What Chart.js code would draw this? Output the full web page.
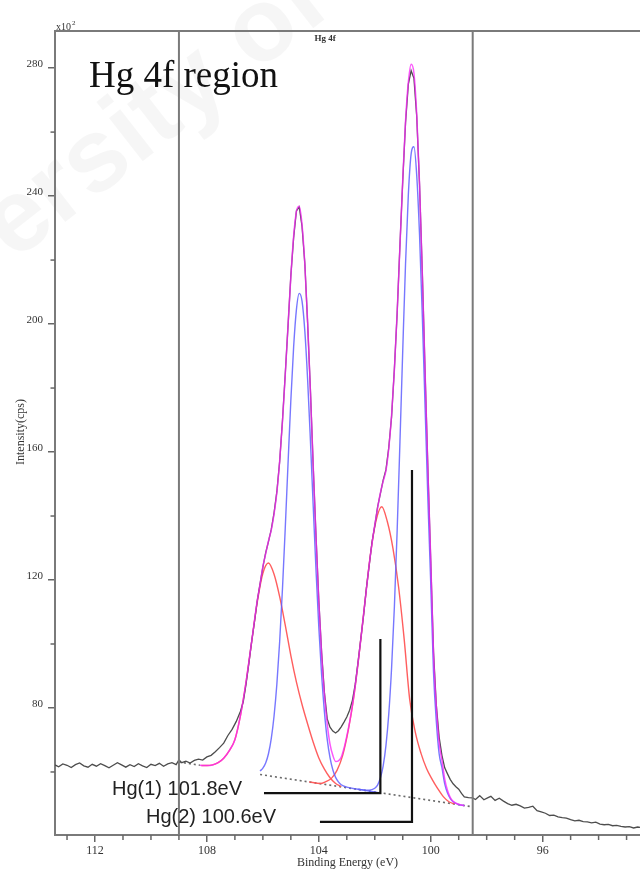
<!DOCTYPE html>
<html><head><meta charset="utf-8">
<script src="https://cdn.jsdelivr.net/npm/chart.js@4.4.0/dist/chart.umd.min.js"></script>
<style>html,body{margin:0;padding:0;background:#fff;}canvas{display:block;}</style>
</head><body>
<canvas id="c" width="640" height="871"></canvas>
<script>
// ---------- data ----------
const xTicks = [112, 108, 104, 100, 96];
const xMinorTicks = [113, 111, 110, 109, 107, 106, 105, 103, 102, 101, 99, 98, 97, 95, 94, 93];
const yTicks = [80, 120, 160, 200, 240, 280];
const yMinorTicks = [60, 100, 140, 180, 220, 260];
const xRange = [92.52, 113.43];
const yRange = [40.3, 291.6];
const regionLimits = [109.0, 98.5];
const peakLabels = ['Hg(1) 101.8eV', 'Hg(2) 100.6eV'];

// raw spectrum (binding energy eV, intensity x10^2 cps)
const rawE = [113.43,113.3,113.15,113.0,112.85,112.7,112.55,112.4,112.25,112.1,
  111.95,111.8,111.65,111.5,111.35,111.2,111.05,110.9,110.75,110.6,
  110.45,110.3,110.15,110.0,109.85,109.7,109.55,109.4,109.25,109.1,
  109.0,108.9,108.75,108.6,108.45,108.3,108.15,108.0,107.85,107.7,
  107.55,107.4,107.25,107.1,106.95,106.8,106.7,106.6,106.5,106.4,
  106.3,106.2,106.1,106.0,105.9,105.8,105.7,105.6,105.5,105.4,
  105.3,105.2,105.1,105.0,104.9,104.8,104.7,104.6,104.5,104.4,
  104.3,104.2,104.1,104.0,103.9,103.8,103.7,103.6,103.5,103.4,
  103.3,103.2,103.1,103.0,102.9,102.8,102.7,102.6,102.5,102.4,
  102.3,102.2,102.1,102.0,101.9,101.8,101.7,101.6,101.5,101.4,
  101.3,101.2,101.1,101.0,100.9,100.8,100.7,100.6,100.5,100.4,
  100.3,100.2,100.1,100.0,99.9,99.8,99.7,99.6,99.5,99.4,
  99.3,99.2,99.1,99.0,98.9,98.8,98.65,98.5,98.4,98.25,
  98.1,97.95,97.85,97.7,97.55,97.4,97.25,97.1,96.95,96.8,
  96.65,96.5,96.35,96.2,96.05,95.9,95.75,95.6,95.45,95.3,
  95.15,95.0,94.85,94.7,94.55,94.4,94.25,94.1,93.95,93.8,
  93.65,93.5,93.35,93.2,93.05,92.9,92.75,92.6,92.52];
const rawI = [62.2,61.6,62.5,62.1,61.4,62.3,62.8,61.9,61.5,62.4,
  61.8,62.6,62.0,61.3,62.1,62.9,62.2,61.5,62.3,61.7,
  62.6,61.9,61.4,62.4,62.0,62.7,61.8,62.5,62.9,62.3,
  63.8,62.9,63.4,62.8,63.6,64.0,63.7,64.7,65.2,66.3,
  67.6,69.0,71.4,73.3,75.8,79.0,82.0,87.5,94.0,100.8,
  107.0,113.6,118.9,124.0,128.5,132.0,135.8,141.0,147.6,157.0,
  169.8,184.4,199.5,215.2,227.0,235.4,236.6,230.5,218.9,200.2,
  179.2,155.3,133.6,113.5,97.4,84.8,76.6,74.0,72.8,72.2,
  72.9,74.1,75.6,77.2,79.3,82.4,87.3,94.2,101.6,109.0,
  117.4,124.5,131.8,137.0,142.8,147.0,151.2,154.5,161.4,171.0,
  185.9,203.4,224.8,244.9,263.0,275.0,279.2,276.8,264.8,243.5,
  215.8,184.3,154.2,126.0,97.5,80.8,70.9,65.2,61.3,59.4,
  57.6,56.3,55.4,54.6,53.3,52.2,52.0,51.9,51.4,52.6,
  51.3,52.0,52.4,51.1,51.8,50.9,50.1,49.6,49.9,49.4,
  48.7,48.9,49.3,47.9,47.5,47.1,46.4,46.5,46.0,45.7,
  45.6,45.1,44.7,44.9,44.5,44.4,44.1,44.3,43.7,43.5,
  43.6,43.2,43.3,43.0,42.8,42.9,42.5,42.8,42.7];

// fitted envelope (magenta)
const envE = [108.25,108.0,107.8,107.6,107.4,107.2,107.0,106.8,106.6,106.4,
  106.2,106.1,106.0,105.9,105.8,105.7,105.6,105.5,105.4,105.3,
  105.2,105.1,105.0,104.9,104.8,104.7,104.6,104.5,104.4,104.3,
  104.2,104.1,104.0,103.9,103.8,103.7,103.6,103.5,103.4,103.3,
  103.2,103.1,103.0,102.9,102.8,102.7,102.6,102.5,102.4,102.3,
  102.2,102.1,102.0,101.9,101.8,101.7,101.6,101.5,101.4,101.3,
  101.2,101.1,101.0,100.9,100.8,100.7,100.6,100.5,100.4,100.3,
  100.2,100.1,100.0,99.9,99.8,99.7,99.6,99.5,99.4,99.3,
  99.2,99.0,98.8];
const envI = [62.1,62.0,62.2,62.9,64.3,66.7,70.1,77.7,88.2,100.8,
  113.6,118.7,124.2,128.2,132.2,135.6,140.7,147.4,157.2,169.4,
  184.1,199.7,214.8,227.5,235.2,236.8,231.1,218.7,200.6,178.8,
  155.6,133.3,113.2,96.9,84.2,75.0,68.7,65.2,63.3,63.5,
  64.6,67.4,71.2,75.6,80.8,86.9,94.0,101.4,109.3,117.1,
  124.8,131.4,137.2,142.5,147.2,150.9,154.2,161.1,171.4,185.6,
  203.7,224.5,245.2,263.5,275.6,281.2,278.4,265.4,243.8,215.5,
  184.6,153.9,126.5,97.0,80.5,69.2,63.7,57.8,54.2,52.0,
  50.8,49.9,49.5];

// Hg(2) components (blue): 4f5/2 and 4f7/2
const blue1E = [106.1,106.0,105.9,105.8,105.7,105.6,105.5,105.4,105.3,105.2,
  105.1,105.0,104.9,104.8,104.7,104.6,104.5,104.4,104.3,104.2,
  104.1,104.0,103.9,103.8,103.7,103.6,103.5,103.4,103.3,103.2,
  103.0,102.6,102.2,101.9];
const blue1I = [60.3,61.2,62.8,65.7,70.4,77.5,87.4,100.7,117.2,136.2,
  156.5,176.2,192.9,204.6,209.6,207.2,197.8,182.6,163.5,143.0,
  123.0,105.2,90.3,78.8,70.2,64.5,60.7,58.3,56.9,56.0,
  55.25,54.6,54.0,53.6];
const blue2E = [102.6,102.2,102.0,101.9,101.8,101.7,101.6,101.5,101.4,101.3,
  101.2,101.1,101.0,100.9,100.8,100.7,100.6,100.5,100.4,100.3,
  100.2,100.1,100.0,99.9,99.8,99.7,99.6,99.5,99.4,99.3,
  99.2,99.0,98.8];
const blue2I = [54.6,54.3,54.9,55.9,58.1,61.9,68.3,78.1,92.4,111.5,
  135.5,163.2,191.9,219.0,240.5,253.2,255.4,246.4,227.9,202.3,
  173.6,144.8,119.0,91.0,75.8,65.7,61.4,56.3,53.4,51.7,
  50.7,49.8,49.5];

// Hg(1) components (red)
const red1E = [108.2,108.0,107.8,107.6,107.4,107.2,107.0,106.8,106.6,106.4,
  106.2,106.0,105.8,105.6,105.4,105.2,105.0,104.8,104.6,104.4,
  104.2,104.0,103.8,103.6,103.4,103.2];
const red1I = [62.0,62.0,62.2,62.9,64.3,66.7,70.1,77.7,88.2,100.7,
  113.1,122.1,125.3,121.8,114.8,105.9,96.4,88.1,81.1,75.0,
  69.3,64.4,60.9,58.2,56.4,55.4];
const red2E = [104.35,103.95,103.75,103.55,103.35,103.15,102.95,102.75,102.55,102.35,
  102.15,101.95,101.75,101.55,101.35,101.15,100.95,100.75,100.55,100.35,
  100.15,99.95,99.75,99.55,99.35,99.15];
const red2I = [56.9,56.4,57.0,58.0,60.5,65.1,72.9,83.4,97.5,113.3,
  128.3,138.7,142.9,138.2,129.9,117.9,101.6,82.5,72.4,65.9,
  61.1,57.7,54.8,52.3,50.7,50.0];

// linear background (dotted)
const bgE = [109.0, 108.25, 107.2, 106.1, 98.5];
const bgI = [63.1, 62.1, null, 59.2, 49.1];

// peak position markers
const hg1E = [105.96, 101.8, 101.8];
const hg1I = [53.4, 53.4, 101.6];
const hg2E = [103.96, 100.67, 100.67];
const hg2I = [44.4, 44.4, 154.4];

// ---------- chart ----------
const pts = (xs, ys) => xs.map((x, i) => ({x: x, y: ys[i]}));
function ds(xs, ys, color, width, order, extra) {
  return Object.assign({
    data: pts(xs, ys), showLine: true, borderColor: color, borderWidth: width,
    pointRadius: 0, pointHoverRadius: 0, fill: false, order: order, tension: 0
  }, extra || {});
}
const smooth = {cubicInterpolationMode: 'monotone'};

const datasets = [
  ds(hg1E, hg1I, '#111', 2.2, 0),
  ds(hg2E, hg2I, '#111', 2.2, 0),
  ...regionLimits.map(v => ds([v, v], yRange, '#7a7a7a', 2, 1)),
  ds(envE, envI, 'rgba(250,40,250,0.78)', 1.5, 2, smooth),
  ds(blue1E, blue1I, 'rgba(95,95,255,0.85)', 1.4, 3, smooth),
  ds(blue2E, blue2I, 'rgba(95,95,255,0.85)', 1.4, 3, smooth),
  ds(rawE, rawI, '#4d4d4d', 1.3, 4),
  ds(red1E, red1I, 'rgba(255,85,85,0.95)', 1.4, 5, smooth),
  ds(red2E, red2I, 'rgba(255,85,85,0.95)', 1.4, 5, smooth),
  ds(bgE, bgI, '#6a6a6a', 1.6, 6, {borderDash: [2, 3]})
];

const serif = "'Liberation Serif', 'Times New Roman', serif";
const sans = "'Liberation Sans', Arial, sans-serif";

const extras = {
  id: 'extras',
  beforeDraw(chart) {
    const ctx = chart.ctx;
    ctx.save();
    ctx.fillStyle = '#fff';
    ctx.fillRect(0, 0, chart.width, chart.height);
    ctx.translate(14, 262);
    ctx.rotate(-38 * Math.PI / 180);
    ctx.font = 'bold 104px ' + sans;
    ctx.fillStyle = 'rgba(0,0,0,0.035)';
    ctx.fillText('ersity of', 0, 0);
    ctx.restore();
  },
  afterDraw(chart) {
    const ctx = chart.ctx, a = chart.chartArea, x = chart.scales.x, y = chart.scales.y;
    ctx.save();
    // top frame line
    ctx.strokeStyle = '#7a7a7a'; ctx.lineWidth = 2;
    ctx.beginPath(); ctx.moveTo(a.left - 1, a.top); ctx.lineTo(a.right, a.top); ctx.stroke();
    // minor ticks
    ctx.strokeStyle = '#666'; ctx.lineWidth = 1.5;
    xMinorTicks.forEach(v => {
      const px = x.getPixelForValue(v);
      ctx.beginPath(); ctx.moveTo(px, a.bottom); ctx.lineTo(px, a.bottom + 5); ctx.stroke();
    });
    yMinorTicks.forEach(v => {
      const py = y.getPixelForValue(v);
      ctx.beginPath(); ctx.moveTo(a.left, py); ctx.lineTo(a.left - 4.5, py); ctx.stroke();
    });
    // texts
    ctx.fillStyle = '#333';
    ctx.textBaseline = 'alphabetic';
    ctx.textAlign = 'left';
    ctx.font = '10px ' + serif;
    ctx.fillText('x10', a.left + 1, a.top - 1);
    ctx.font = '7px ' + serif;
    ctx.fillText('2', a.left + 17, a.top - 6);
    ctx.font = 'bold 9px ' + serif;
    ctx.textAlign = 'center';
    ctx.fillText('Hg 4f', 325, a.top + 10);
    ctx.fillStyle = '#111';
    ctx.textAlign = 'left';
    ctx.font = '37px ' + serif;
    ctx.fillText('Hg 4f region', 89, 87);
    // axis titles
    ctx.fillStyle = '#333';
    ctx.font = '12px ' + serif;
    ctx.textAlign = 'center';
    ctx.fillText('Binding Energy (eV)', (a.left + a.right) / 2, 866);
    ctx.save();
    ctx.translate(21, 432);
    ctx.rotate(-Math.PI / 2);
    ctx.textBaseline = 'middle';
    ctx.fillText('Intensity(cps)', 0, 0);
    ctx.restore();
    // peak labels
    ctx.fillStyle = '#222';
    ctx.font = '20px ' + sans;
    ctx.textAlign = 'left';
    ctx.fillText(peakLabels[0], 112, 795);
    ctx.fillText(peakLabels[1], 146, 823);
    ctx.restore();
  }
};

new Chart(document.getElementById('c'), {
  type: 'scatter',
  data: {datasets: datasets},
  options: {
    responsive: false, animation: false, devicePixelRatio: 1, events: [],
    layout: {padding: {top: 31, right: 0, bottom: 0, left: 0}},
    plugins: {legend: {display: false}, tooltip: {enabled: false}},
    scales: {
      x: {
        type: 'linear', reverse: true, min: xRange[0], max: xRange[1],
        afterBuildTicks: s => { s.ticks = xTicks.map(v => ({value: v})); },
        afterFit: s => { s.height = 36; },
        grid: {drawOnChartArea: false, drawTicks: true, tickLength: 7, color: '#666', lineWidth: 1.5},
        border: {display: true, color: '#7a7a7a', width: 2},
        ticks: {font: {family: serif, size: 12}, color: '#333', padding: 2, maxRotation: 0, autoSkip: false,
                callback: v => String(v)}
      },
      y: {
        type: 'linear', min: yRange[0], max: yRange[1],
        afterBuildTicks: s => { s.ticks = yTicks.map(v => ({value: v})); },
        afterFit: s => { s.width = 55; },
        grid: {drawOnChartArea: false, drawTicks: true, tickLength: 7, color: '#666', lineWidth: 1.5},
        border: {display: true, color: '#7a7a7a', width: 2},
        ticks: {font: {family: serif, size: 11}, color: '#333', padding: 5, labelOffset: -4,
                callback: v => String(v)}
      }
    }
  },
  plugins: [extras]
});
</script>
</body></html>
